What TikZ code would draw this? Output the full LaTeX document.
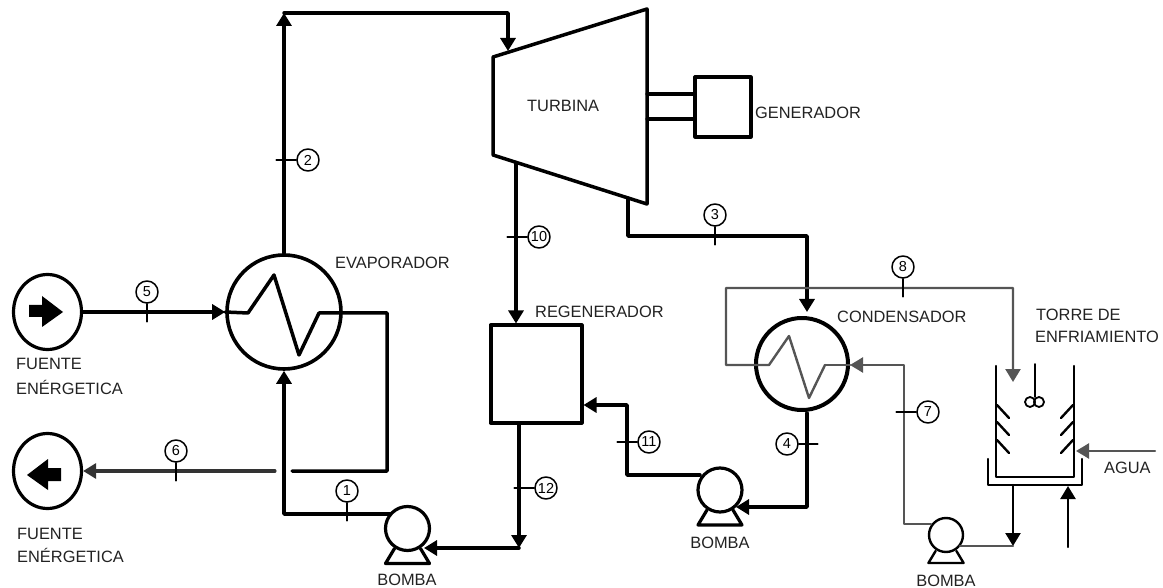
\documentclass[tikz,border=0pt]{standalone}
\usepackage{fontspec}
\setmainfont{Liberation Sans}
\usetikzlibrary{arrows.meta}
\usetikzlibrary{shapes.geometric}

\definecolor{streamgray}{HTML}{555555}
\definecolor{textgray}{HTML}{222222}

\tikzset{
	mainline/.style={line width=3.5pt, black},
	midline/.style={line width=3.1pt, black},
	thinline/.style={line width=2.4pt, streamgray},
	towerline/.style={line width=2.4pt, black},
	flowtip/.style={-{Triangle[length=13pt,width=15pt]}},
	tickline/.style={line width=1.6pt, black},
	tagnum/.style={circle, draw, line width=1.5pt, minimum size=22pt, inner sep=0pt, font=\fontsize{14.5}{14.5}\selectfont},
	labeltext/.style={inner sep=0pt, anchor=base west, text=textgray, font=\fontsize{16.4}{18}\selectfont},
	pumpname/.style={labeltext, anchor=base},
	vessel/.style={circle, draw, line width=3.6pt, inner sep=0pt},
	pumpbody/.style={circle, draw, inner sep=0pt, fill=white}
}

\begin{document}
\begin{tikzpicture}[x=1pt, y=-1pt, line cap=round, line join=round]

	\useasboundingbox (0,0) rectangle (1163,588);

	% Sources
	\node[ellipse, draw, line width=3.2pt, inner sep=0pt, minimum width=68pt, minimum height=75pt] (srcin) at (47.5,312) {};
	\node[ellipse, draw, line width=3.2pt, inner sep=0pt, minimum width=68pt, minimum height=75pt] (srcout) at (47.5,471) {};
	\fill (29,305) -- (42,305) -- (42,296) -- (63,312) -- (42,327) -- (42,317) -- (29,317) -- cycle;
	\fill (61,468) -- (48,468) -- (48,459) -- (27,475) -- (48,490) -- (48,481) -- (61,481) -- cycle;

	% Heat exchangers
	\node[vessel, minimum size=114pt] (evap) at (284,312) {};
	\node[vessel, minimum size=92pt, line width=4pt] (cond) at (802,364) {};

	% Turbine and generator
	\coordinate (turbtl) at (493,57);
	\coordinate (turbtr) at (647,9);
	\coordinate (turbbr) at (647,204);
	\coordinate (turbbl) at (493,155);
	\draw[mainline] (turbtl) -- (turbtr) -- (turbbr) -- (turbbl) -- cycle;
	\node[draw, line width=3.2pt, minimum width=56pt, minimum height=60pt, inner sep=0pt] (gen) at (723,107) {};
	\coordinate (shaftup) at (647,94);
	\coordinate (shaftlow) at (647,119);
	\draw[midline] (shaftup) -- (shaftup -| gen.west);
	\draw[midline] (shaftlow) -- (shaftlow -| gen.west);

	% Regenerator
	\node[draw, line width=4pt, minimum width=91pt, minimum height=97pt, inner sep=0pt] (regen) at (536,374) {};

	% Pumps
	\foreach \n/\x/\y/\d/\s/\w in {pumpA/407.5/528.5/44/1/3.2, pumpB/720/490/44/1/3.2, pumpC/946/535/34/0.8/2.4}{
		\node[pumpbody, line width=\w pt, minimum size=\d pt] (\n) at (\x,\y) {};
		\draw[line width=\w pt, shift={(\n.center)}, scale=\s] (-13,20) -- (-22,35) -- (22,35) -- (13,20);
	}

	% Evaporator streams
	\coordinate (coilA) at (248,313);
	\coordinate (coilB) at (274,275);
	\coordinate (coilC) at (299,355);
	\coordinate (coilD) at (319,313);
	\coordinate (hotR) at (387,313);
	\coordinate (hotRb) at (387,471);
	\coordinate (hotgapR) at (292,471);
	\coordinate (hotgapL) at (275,471);
	\draw[mainline, flowtip] (srcin.east) -- (evap.west);
	\draw[mainline] (evap.west) -- (coilA) -- (coilB) -- (coilC) -- (coilD) -- (hotR) -- (hotRb) -- (hotgapR);
	\draw[midline, streamgray!60!black, flowtip] (hotgapL) -- (srcout.east);

	% Working fluid
	\coordinate (topL) at (284,13);
	\coordinate (topR) at (508,13);
	\coordinate (turbin) at (508,51);
	\draw[mainline, flowtip] (evap.north) -- (topL);
	\draw[mainline, flowtip] (topL) -- (topR) -- (turbin);

	\coordinate (cornerA) at (284,514);
	\coordinate (pumpAout) at (390,514);
	\draw[mainline, flowtip] (pumpAout) -- (cornerA) -- (evap.south);

	\coordinate (turbext) at (516,163);
	\draw[midline, flowtip] (turbext) -- (turbext |- regen.north);

	\coordinate (turbexh) at (628,198);
	\coordinate (exhA) at (628,236);
	\coordinate (exhB) at (807,236);
	\coordinate (condin) at (807,312);
	\draw[mainline, flowtip] (turbexh) -- (exhA) -- (exhB) -- (condin);

	\coordinate (condout) at (807,413);
	\coordinate (cornerB) at (807,507);
	\coordinate (pumpBin) at (736,507);
	\draw[mainline, flowtip] (condout) -- (cornerB) -- (pumpBin);

	\coordinate (pumpBout) at (700,475);
	\coordinate (cornerC) at (627,475);
	\coordinate (regenin) at (627,405);
	\draw[mainline, flowtip] (pumpBout) -- (cornerC) -- (regenin) -- (regenin -| regen.east);

	\coordinate (regenout) at (519,423);
	\coordinate (cornerD) at (519,548);
	\coordinate (pumpAin) at (424,548);
	\draw[midline, flowtip] (regenout) -- (cornerD);
	\draw[mainline, flowtip] (cornerD) -- (pumpAin);

	% Cooling water
	\coordinate (cwA) at (1013,288);
	\coordinate (cwB) at (726,288);
	\coordinate (cwC) at (726,365);
	\coordinate (cwD) at (769,365);
	\coordinate (cwE) at (789,336);
	\coordinate (cwF) at (809,398);
	\coordinate (cwG) at (825,365);
	\coordinate (cwH) at (850,365);
	\coordinate (cwI) at (904,365);
	\coordinate (cwJ) at (904,524);
	\coordinate (cwK) at (931,524);
	\coordinate (cwL) at (1013,382);
	\draw[thinline, flowtip] (cwG) -- (cwF) -- (cwE) -- (cwD) -- (cwC) -- (cwB) -- (cwA) -- (cwL);
	\draw[thinline] (cwG) -- (cwH);
	\draw[thinline, flowtip] (cwK) -- (cwJ) -- (cwI) -- (cwH);

	% Tower
	\draw[towerline] (996,366) -- (996,477) -- (1074,477) -- (1074,366);
	\draw[towerline] (988,459) -- (988,485) -- (1082,485) -- (1082,459);
	\foreach \y in {405,422,440}{
		\draw[towerline] (997,\y) -- (1009,\y+13);
		\draw[towerline] (1073,\y) -- (1061,\y+13);
	}
	\coordinate (fanhub) at (1035,364);
	\node[circle, draw, line width=1.8pt, minimum size=10pt, inner sep=0pt] (fanL) at (1030,402) {};
	\node[circle, draw, line width=1.8pt, minimum size=10pt, inner sep=0pt] (fanR) at (1039,402) {};
	\draw[towerline, line width=1.8pt] (fanhub) -- (1035,397);

	\coordinate (basinout) at (1013,485);
	\coordinate (basinjoin) at (1013,546);
	\coordinate (pumpCout) at (960,546);
	\draw[towerline, flowtip] (basinout) -- (basinjoin);
	\draw[thinline] (pumpCout) -- (basinjoin);
	\coordinate (makeup) at (1068,547);
	\coordinate (basinin) at (1068,486);
	\draw[towerline, flowtip] (makeup) -- (basinin);
	\coordinate (aguaR) at (1155,451);
	\coordinate (aguaL) at (1076,451);
	\draw[thinline, flowtip] (aguaR) -- (aguaL);

	% State points
	\foreach \n/\x/\y in {1/347/491, 2/308/160, 3/715/215, 4/787/444, 5/147/292, 6/176/451,
		7/928/412, 8/903/267, 10/539/237, 11/649/442, 12/546/488}
	\node[tagnum] (tag\n) at (\x,\y) {\n};

	\foreach \n in {1,3,5,6,8}
	\draw[tickline] (tag\n.south) -- ++(0,18);
	\foreach \n in {2,7,10,11,12}
	\draw[tickline] (tag\n.west) -- ++(-20,0);
	\draw[tickline] (tag4.east) -- ++(19,0);

	% Labels
	\node[labeltext] (lblturb) at (527,112) {TURBINA};
	\node[labeltext] (lblgen) at (755,119) {GENERADOR};
	\node[labeltext] (lblevap) at (335,269) {EVAPORADOR};
	\node[labeltext] (lblregen) at (535,318) {REGENERADOR};
	\node[labeltext] (lblcond) at (837,323) {CONDENSADOR};
	\node[labeltext] (lbltorreA) at (1036,320) {TORRE DE};
	\node[labeltext] (lbltorreB) at (1035,342) {ENFRIAMIENTO};
	\node[labeltext] (lblagua) at (1104,473) {AGUA};
	\node[labeltext] (lblsrcA) at (16,369) {FUENTE};
	\node[labeltext] (lblsrcB) at (16,394) {ENÉRGETICA};
	\node[labeltext] (lblsrcC) at (17,539) {FUENTE};
	\node[labeltext] (lblsrcD) at (17,562) {ENÉRGETICA};
	\node[pumpname] (lblpumpA) at (407,585) {BOMBA};
	\node[pumpname] (lblpumpB) at (720,548) {BOMBA};
	\node[pumpname] (lblpumpC) at (946,586) {BOMBA};

\end{tikzpicture}
\end{document}
